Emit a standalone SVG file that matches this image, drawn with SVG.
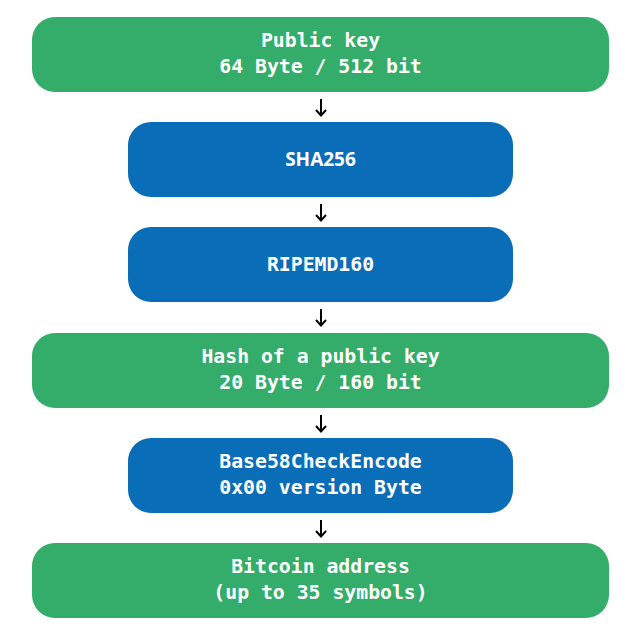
<svg xmlns="http://www.w3.org/2000/svg" width="626" height="629" viewBox="0 0 626 629">
<style>
.g{fill:#33ad69}
.b{fill:#0a6db7}
.t{font-family:"DejaVu Sans Mono","Liberation Mono",monospace;font-weight:bold;font-size:19.8px;fill:#fff;text-anchor:middle}
.s{font-family:"Open Sans","Liberation Sans",sans-serif;font-weight:bold;font-size:19px;fill:#fff;text-anchor:middle}
.c path{fill:none;stroke:#000;stroke-width:2;stroke-linecap:butt}
</style>
<rect width="626" height="629" fill="#fff"/>
<g id="n1"><rect class="g" x="32" y="17" width="577" height="75" rx="23"/><text class="t" x="320.5" y="47">Public key</text><text class="t" x="320.5" y="73">64 Byte / 512 bit</text></g>
<g id="n2"><rect class="b" x="128" y="122" width="385" height="75" rx="23"/><text class="s" x="320.5" y="166">SHA256</text></g>
<g id="n3"><rect class="b" x="128" y="227" width="385" height="75" rx="23"/><text class="t" x="320.5" y="271">RIPEMD160</text></g>
<g id="n4"><rect class="g" x="32" y="333" width="577" height="75" rx="23"/><text class="t" x="320.5" y="363">Hash of a public key</text><text class="t" x="320.5" y="389">20 Byte / 160 bit</text></g>
<g id="n5"><rect class="b" x="128" y="438" width="385" height="75" rx="23"/><text class="t" x="320.5" y="468">Base58CheckEncode</text><text class="t" x="320.5" y="494">0x00 version Byte</text></g>
<g id="n6"><rect class="g" x="32" y="543" width="577" height="75" rx="23"/><text class="t" x="320.5" y="573">Bitcoin address</text><text class="t" x="320.5" y="599">(up to 35 symbols)</text></g>
<g class="c" id="connectors">
<path d="M321 99V115M316 110L321 115.5L326 110"/>
<path d="M321 204V220M316 215L321 220.5L326 215"/>
<path d="M321 309V325M316 320L321 325.5L326 320"/>
<path d="M321 415V431M316 426L321 431.5L326 426"/>
<path d="M321 520V536M316 531L321 536.5L326 531"/>
</g>
</svg>
